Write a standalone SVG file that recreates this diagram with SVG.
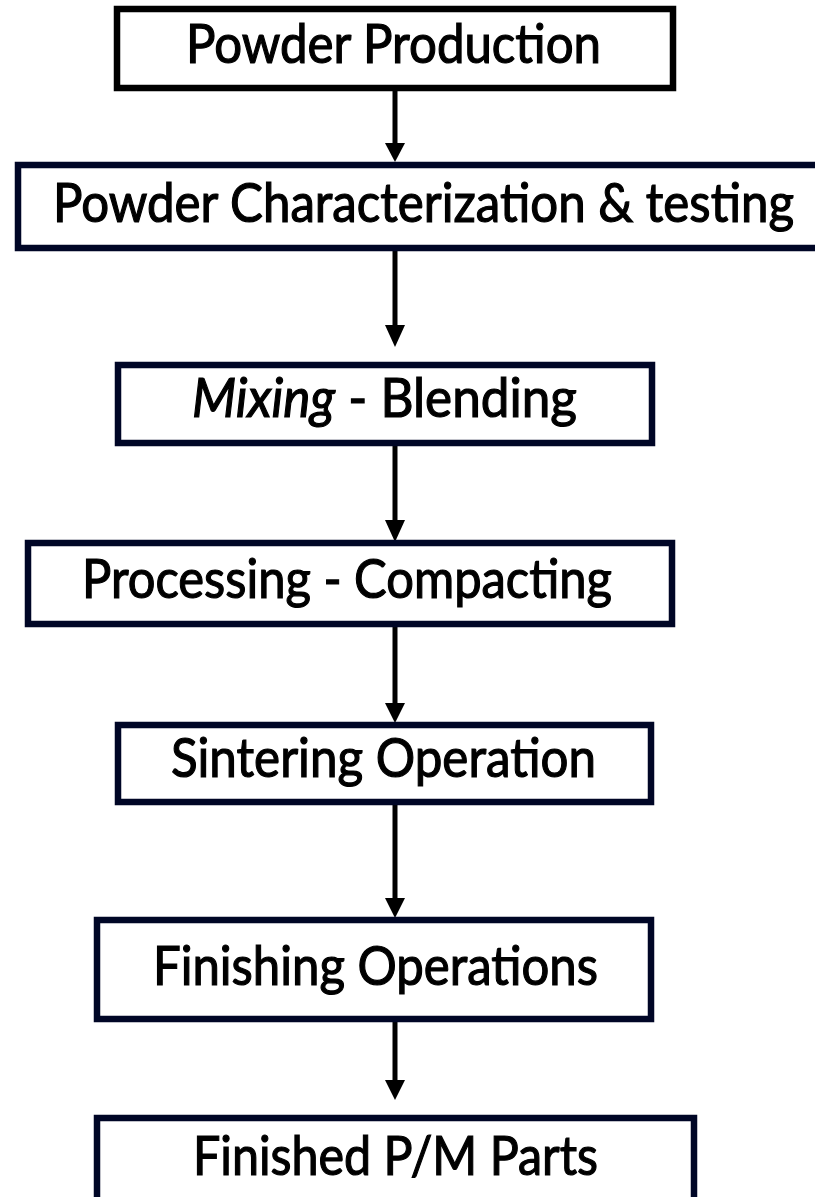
<svg xmlns="http://www.w3.org/2000/svg" width="815" height="1197" viewBox="0 0 815 1197">
<style>
.box{fill:#ffffff;stroke:#000626;stroke-width:6.5}
.b1{stroke:#000000}
.lbl{font-family:Lato,"Open Sans","Liberation Sans",sans-serif;font-size:54px;fill:#000000;stroke:#000000;stroke-width:1.2}
.ln{stroke:#000000;stroke-width:5;fill:none}
.hd{fill:#000000}
</style>
<rect width="815" height="1197" fill="#ffffff"/>
<g id="connectors">
<line class="ln" x1="395" y1="91" x2="395" y2="146"/><polygon class="hd" points="385,143 405,143 395,162"/>
<line class="ln" x1="395" y1="251" x2="395" y2="328"/><polygon class="hd" points="385,325 405,325 395,347"/>
<line class="ln" x1="395" y1="446" x2="395" y2="523"/><polygon class="hd" points="385,520 405,520 395,542"/>
<line class="ln" x1="395" y1="627" x2="395" y2="706"/><polygon class="hd" points="385,703 405,703 395,723"/>
<line class="ln" x1="395" y1="805" x2="395" y2="901"/><polygon class="hd" points="385,898 405,898 395,918"/>
<line class="ln" x1="395" y1="1022" x2="395" y2="1083"/><polygon class="hd" points="385,1080 405,1080 395,1100"/>
</g>
<g id="n1"><rect class="box b1" x="117" y="9" width="556" height="79"/><text class="lbl" x="186" y="63" textLength="415" lengthAdjust="spacingAndGlyphs">Powder Production</text></g>
<g id="n2"><rect class="box" x="18" y="165" width="808" height="83"/><text class="lbl" x="53" y="222" textLength="741" lengthAdjust="spacingAndGlyphs">Powder Characterization &amp; testing</text></g>
<g id="n3"><rect class="box" x="118" y="365" width="534" height="78"/><text class="lbl" x="192" y="417" textLength="385" lengthAdjust="spacingAndGlyphs"><tspan font-style="italic">Mixing</tspan> - Blending</text></g>
<g id="n4"><rect class="box" x="28" y="543" width="644" height="81"/><text class="lbl" x="82" y="598" textLength="530" lengthAdjust="spacingAndGlyphs">Processing - Compacting</text></g>
<g id="n5"><rect class="box" x="118" y="725" width="533" height="77"/><text class="lbl" x="171" y="777" textLength="425" lengthAdjust="spacingAndGlyphs">Sintering Operation</text></g>
<g id="n6"><rect class="box" x="97" y="920" width="554" height="99"/><text class="lbl" x="153" y="985" textLength="445" lengthAdjust="spacingAndGlyphs">Finishing Operations</text></g>
<g id="n7"><rect class="box" x="97" y="1118" width="597" height="100"/><text class="lbl" x="193" y="1175" textLength="405" lengthAdjust="spacingAndGlyphs">Finished P/M Parts</text></g>
</svg>
